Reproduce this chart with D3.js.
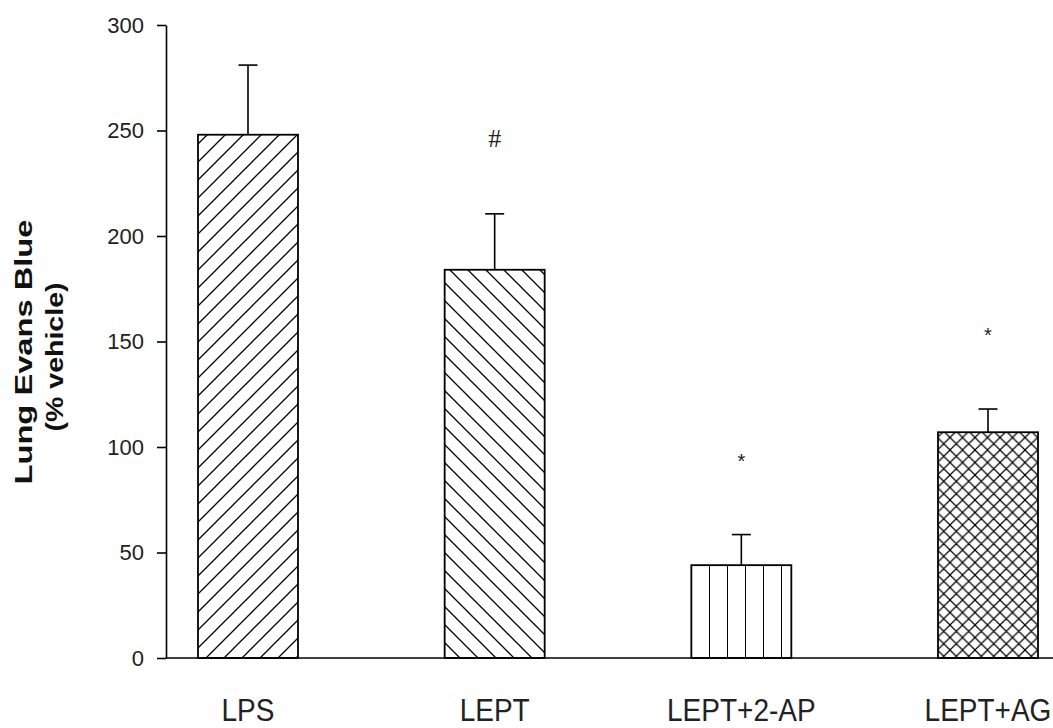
<!DOCTYPE html>
<html>
<head>
<meta charset="utf-8">
<script src="https://cdn.jsdelivr.net/npm/d3@7"></script>
<style>
  html, body { margin: 0; padding: 0; background: #fff; overflow: hidden; }
  svg { display: block; }
</style>
</head>
<body>
<div id="chart"></div>
<script>
// ---- data ----
const categories = ["LPS", "LEPT", "LEPT+2-AP", "LEPT+AG"];
const means = [248, 184, 44, 107];
const errors = [33, 26.5, 14.5, 11];
const markers = ["", "#", "*", "*"];
const patterns = ["fwd", "back", "vert", "cross"];
const yTicks = [0, 50, 100, 150, 200, 250, 300];
const yLabelLines = ["Lung Evans Blue", "(% vehicle)"];

// ---- setup ----
const W = 1053, H = 728;
const svg = d3.select("#chart").append("svg").attr("width", W).attr("height", H);

const x = d3.scalePoint().domain(categories).range([248, 988]);
const y = d3.scaleLinear().domain([0, 300]).range([658, 25]);
const barW = 100;

// patterns
const defs = svg.append("defs");
const sw = 1.3;
const pf = defs.append("pattern").attr("id", "fwd").attr("patternUnits", "userSpaceOnUse")
  .attr("width", 18).attr("height", 18);
pf.append("path").attr("d", "M0,18 L18,0 M-4,4 L4,-4 M14,22 L22,14")
  .attr("stroke", "#000").attr("stroke-width", sw).attr("fill", "none");
const pb = defs.append("pattern").attr("id", "back").attr("patternUnits", "userSpaceOnUse")
  .attr("width", 18).attr("height", 18);
pb.append("path").attr("d", "M0,0 L18,18 M-4,14 L4,22 M14,-4 L22,4")
  .attr("stroke", "#000").attr("stroke-width", sw).attr("fill", "none");
const pv = defs.append("pattern").attr("id", "vert").attr("patternUnits", "userSpaceOnUse")
  .attr("width", 18).attr("height", 18).attr("x", 7);
pv.append("path").attr("d", "M0,0 L0,18")
  .attr("stroke", "#000").attr("stroke-width", 2).attr("fill", "none");
const pc = defs.append("pattern").attr("id", "cross").attr("patternUnits", "userSpaceOnUse")
  .attr("width", 12.5).attr("height", 12.5);
pc.append("path").attr("d", "M0,12.5 L12.5,0 M0,0 L12.5,12.5 M-3,3 L3,-3 M9.5,15.5 L15.5,9.5 M-3,9.5 L3,15.5 M9.5,-3 L15.5,3")
  .attr("stroke", "#000").attr("stroke-width", 1.2).attr("fill", "none");

const data = categories.map((c, i) => ({ c, m: means[i], e: errors[i], mk: markers[i], p: patterns[i] }));

// error bars
const eg = svg.append("g").attr("stroke", "#000").attr("stroke-width", 1.6);
eg.selectAll("line.v").data(data).join("line").attr("class", "v")
  .attr("x1", d => x(d.c)).attr("x2", d => x(d.c))
  .attr("y1", d => y(d.m)).attr("y2", d => y(d.m + d.e));
eg.selectAll("line.h").data(data).join("line").attr("class", "h")
  .attr("x1", d => x(d.c) - 9.5).attr("x2", d => x(d.c) + 9.5)
  .attr("y1", d => y(d.m + d.e)).attr("y2", d => y(d.m + d.e));

// bars
svg.append("g").selectAll("rect").data(data).join("rect")
  .attr("x", d => x(d.c) - barW / 2)
  .attr("y", d => y(d.m))
  .attr("width", barW)
  .attr("height", d => y(0) - y(d.m))
  .attr("fill", d => `url(#${d.p})`)
  .attr("stroke", "#000").attr("stroke-width", 1.8);

// markers
svg.append("g").selectAll("text").data(data.filter(d => d.mk)).join("text")
  .attr("x", d => x(d.c)).attr("y", d => y(d.m + d.e) - 67)
  .attr("text-anchor", "middle")
  .attr("font-family", d => d.mk === "#" ? "Liberation Serif, serif" : "Liberation Sans, Arial, sans-serif")
  .attr("font-size", d => d.mk === "#" ? 26 : 20)
  .attr("fill", "#222")
  .text(d => d.mk);

// y axis
const yAxis = d3.axisLeft(y).tickValues(yTicks).tickSize(9).tickPadding(13).tickSizeOuter(0);
const ya = svg.append("g").attr("transform", "translate(166,0)").call(yAxis);
ya.select(".domain").attr("stroke", "#000").attr("stroke-width", 1.6);
ya.selectAll(".tick line").attr("stroke", "#000").attr("stroke-width", 1.6);
ya.selectAll(".tick text").attr("font-family", "Liberation Sans, Arial, sans-serif")
  .attr("font-size", 22).attr("fill", "#222");

// x axis baseline
svg.append("line").attr("x1", 166).attr("x2", W + 10)
  .attr("y1", y(0)).attr("y2", y(0)).attr("stroke", "#000").attr("stroke-width", 1.6);

// category labels
svg.append("g").selectAll("text").data(categories).join("text")
  .attr("transform", d => `translate(${x(d)},721) scale(1,1.1)`)
  .attr("text-anchor", "middle")
  .attr("font-family", "Liberation Sans, Arial, sans-serif")
  .attr("font-size", 28).attr("fill", "#222")
  .text(d => d);

// y label
const yl = svg.append("g").attr("font-family", "Liberation Sans, Arial, sans-serif")
  .attr("font-weight", "bold").attr("font-size", 23).attr("fill", "#111");
yl.append("text").attr("transform", "translate(32,352) rotate(-90)")
  .attr("text-anchor", "middle").attr("textLength", 265).attr("lengthAdjust", "spacingAndGlyphs")
  .text(yLabelLines[0]);
yl.append("text").attr("transform", "translate(63,357) rotate(-90)")
  .attr("text-anchor", "middle").attr("textLength", 149).attr("lengthAdjust", "spacingAndGlyphs")
  .text(yLabelLines[1]);
</script>
</body>
</html>
